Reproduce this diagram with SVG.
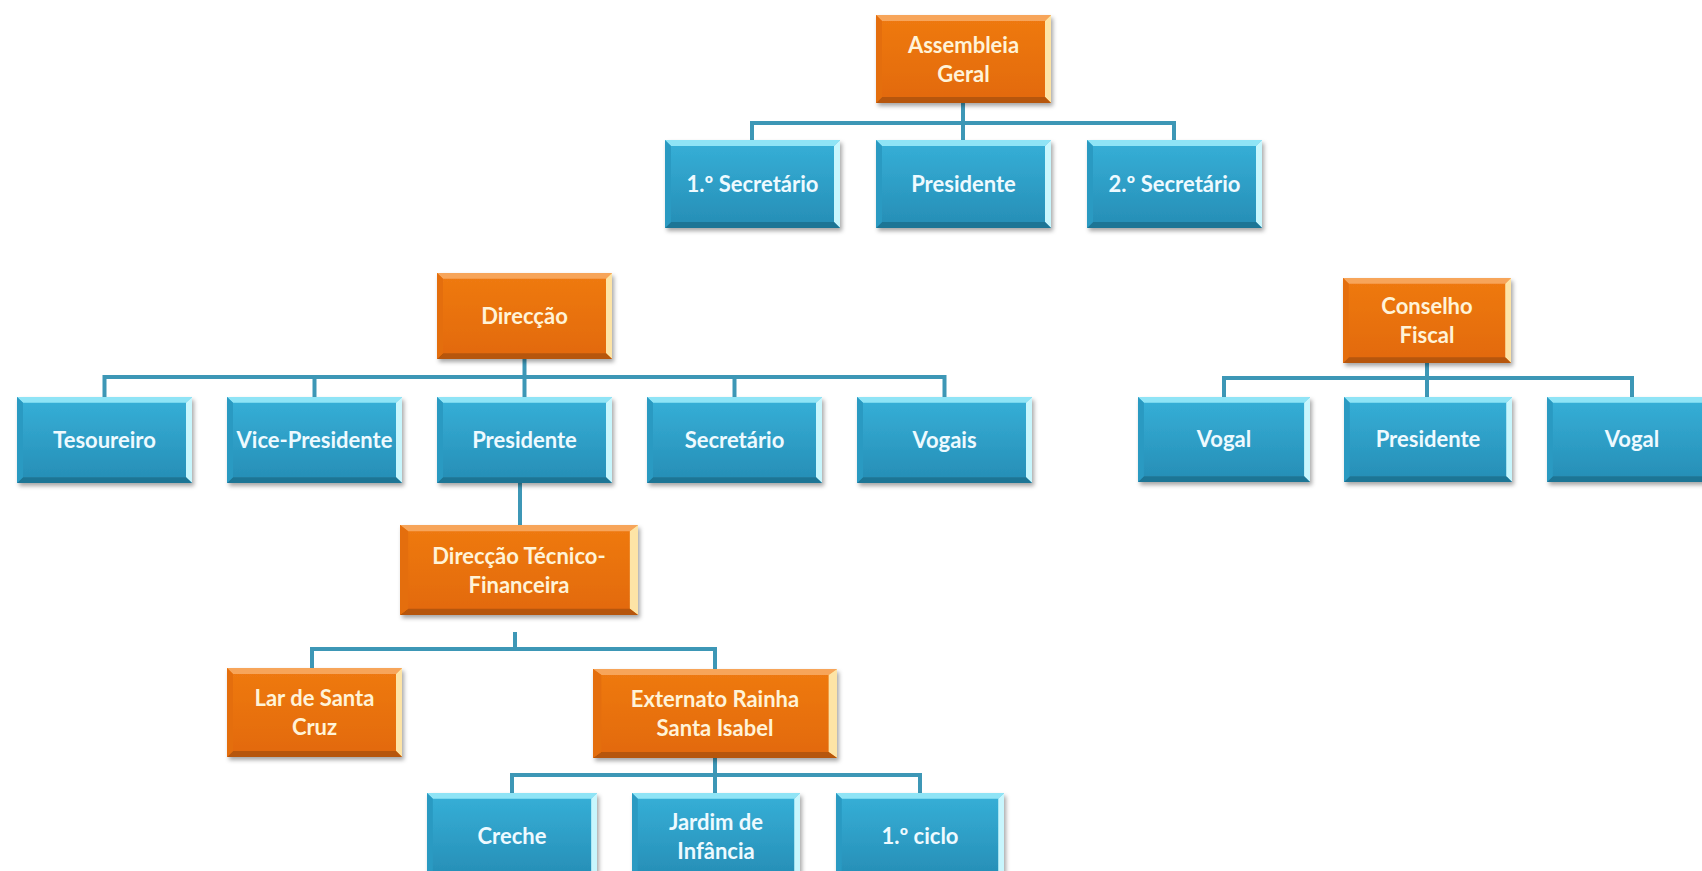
<svg xmlns="http://www.w3.org/2000/svg" xmlns:xlink="http://www.w3.org/1999/xlink" width="1702" height="871" viewBox="0 0 1702 871">
  <defs>
    <linearGradient id="blueFace" x1="0" y1="0" x2="0" y2="1">
      <stop offset="0" stop-color="#36b0d8"/>
      <stop offset="1" stop-color="#268db5"/>
    </linearGradient>
    <linearGradient id="orangeFace" x1="0" y1="0" x2="0" y2="1">
      <stop offset="0" stop-color="#ef7a12"/>
      <stop offset="1" stop-color="#e2690a"/>
    </linearGradient>
    <filter id="shadow" x="-10%" y="-10%" width="125%" height="130%">
      <feDropShadow dx="2" dy="3" stdDeviation="2" flood-color="#000" flood-opacity="0.35"/>
    </filter>
    <!-- bevelled tiles, stretched to each node's size -->
    <symbol id="blueTile" viewBox="0 0 175 88" preserveAspectRatio="none">
      <rect x="0" y="0" width="175" height="88" fill="url(#blueFace)"/>
      <polygon points="0,0 175,0 169,6 6,6" fill="#8fe4f6"/>
      <polygon points="175,0 175,88 169,82 169,6" fill="#c8f6fd"/>
      <polygon points="0,88 175,88 169,82 6,82" fill="#1f7595"/>
      <polygon points="0,0 0,88 6,82 6,6" fill="#2a9ac2"/>
    </symbol>
    <symbol id="orangeTile" viewBox="0 0 175 88" preserveAspectRatio="none">
      <rect x="0" y="0" width="175" height="88" fill="url(#orangeFace)"/>
      <polygon points="0,0 175,0 169,6 6,6" fill="#f7a55a"/>
      <polygon points="175,0 175,88 169,82 169,6" fill="#fde4a6"/>
      <polygon points="0,88 175,88 169,82 6,82" fill="#b65607"/>
      <polygon points="0,0 0,88 6,82 6,6" fill="#e46e0c"/>
    </symbol>
    <style>
      .tile { filter: url(#shadow); }
      .label { font-family: Lato, "Liberation Sans", sans-serif; font-weight: 700; font-size: 22px; text-anchor: middle; }
      .blue .label { fill: #eefaff; }
      .orange .label { fill: #fff3d8; }
      #connectors path { fill: none; stroke: #3d97b6; stroke-width: 4; }
    </style>
  </defs>

  <rect width="1702" height="871" fill="#ffffff"/>

  <g id="connectors">
    <!-- Assembleia Geral -->
    <path d="M963,103 V140"/>
    <path d="M752,140 V123 H1174 V140"/>
    <!-- Direcção -->
    <path d="M524.5,359 V397"/>
    <path d="M104.5,397 V377 H944.5 V397"/>
    <path d="M314.5,377 V397"/>
    <path d="M734.5,377 V397"/>
    <!-- Presidente to Direcção Técnico-Financeira -->
    <path d="M520,483 V525"/>
    <!-- Direcção Técnico-Financeira -->
    <path d="M515,632 V649"/>
    <path d="M312,668 V649 H715 V669"/>
    <!-- Externato Rainha Santa Isabel -->
    <path d="M715,758 V793"/>
    <path d="M512,793 V775 H920 V793"/>
    <!-- Conselho Fiscal -->
    <path d="M1427,363 V397"/>
    <path d="M1224,397 V378 H1632 V397"/>
  </g>

  <!-- Assembleia Geral -->
  <g id="assembleia-geral" class="orange">
    <use class="tile" xlink:href="#orangeTile" x="876" y="15" width="175" height="88"/>
    <text class="label" x="963.5" y="53">Assembleia</text>
    <text class="label" x="963.5" y="82">Geral</text>
  </g>
  <g id="ag-secretario-1" class="blue">
    <use class="tile" xlink:href="#blueTile" x="665" y="140" width="175" height="88"/>
    <text class="label" x="752.5" y="192">1.º Secretário</text>
  </g>
  <g id="ag-presidente" class="blue">
    <use class="tile" xlink:href="#blueTile" x="876" y="140" width="175" height="88"/>
    <text class="label" x="963.5" y="192">Presidente</text>
  </g>
  <g id="ag-secretario-2" class="blue">
    <use class="tile" xlink:href="#blueTile" x="1087" y="140" width="175" height="88"/>
    <text class="label" x="1174.5" y="192">2.º Secretário</text>
  </g>

  <!-- Direcção -->
  <g id="direccao" class="orange">
    <use class="tile" xlink:href="#orangeTile" x="437" y="273" width="175" height="86"/>
    <text class="label" x="524.5" y="324">Direcção</text>
  </g>
  <g id="dir-tesoureiro" class="blue">
    <use class="tile" xlink:href="#blueTile" x="17" y="397" width="175" height="86"/>
    <text class="label" x="104.5" y="448">Tesoureiro</text>
  </g>
  <g id="dir-vice-presidente" class="blue">
    <use class="tile" xlink:href="#blueTile" x="227" y="397" width="175" height="86"/>
    <text class="label" x="314.5" y="448">Vice-Presidente</text>
  </g>
  <g id="dir-presidente" class="blue">
    <use class="tile" xlink:href="#blueTile" x="437" y="397" width="175" height="86"/>
    <text class="label" x="524.5" y="448">Presidente</text>
  </g>
  <g id="dir-secretario" class="blue">
    <use class="tile" xlink:href="#blueTile" x="647" y="397" width="175" height="86"/>
    <text class="label" x="734.5" y="448">Secretário</text>
  </g>
  <g id="dir-vogais" class="blue">
    <use class="tile" xlink:href="#blueTile" x="857" y="397" width="175" height="86"/>
    <text class="label" x="944.5" y="448">Vogais</text>
  </g>

  <!-- Direcção Técnico-Financeira -->
  <g id="direccao-tecnico-financeira" class="orange">
    <use class="tile" xlink:href="#orangeTile" x="400" y="525" width="238" height="90"/>
    <text class="label" x="519" y="564">Direcção Técnico-</text>
    <text class="label" x="519" y="593">Financeira</text>
  </g>
  <g id="lar-santa-cruz" class="orange">
    <use class="tile" xlink:href="#orangeTile" x="227" y="668" width="175" height="89"/>
    <text class="label" x="314.5" y="706">Lar de Santa</text>
    <text class="label" x="314.5" y="735">Cruz</text>
  </g>
  <g id="externato" class="orange">
    <use class="tile" xlink:href="#orangeTile" x="593" y="669" width="244" height="89"/>
    <text class="label" x="715" y="707">Externato Rainha</text>
    <text class="label" x="715" y="736">Santa Isabel</text>
  </g>
  <g id="ext-creche" class="blue">
    <use class="tile" xlink:href="#blueTile" x="427" y="793" width="170" height="86"/>
    <text class="label" x="512" y="844">Creche</text>
  </g>
  <g id="ext-jardim" class="blue">
    <use class="tile" xlink:href="#blueTile" x="632" y="793" width="168" height="86"/>
    <text class="label" x="716" y="830">Jardim de</text>
    <text class="label" x="716" y="859">Infância</text>
  </g>
  <g id="ext-ciclo" class="blue">
    <use class="tile" xlink:href="#blueTile" x="836" y="793" width="168" height="86"/>
    <text class="label" x="920" y="844">1.º ciclo</text>
  </g>

  <!-- Conselho Fiscal -->
  <g id="conselho-fiscal" class="orange">
    <use class="tile" xlink:href="#orangeTile" x="1343" y="278" width="168" height="85"/>
    <text class="label" x="1427" y="314">Conselho</text>
    <text class="label" x="1427" y="343">Fiscal</text>
  </g>
  <g id="cf-vogal-1" class="blue">
    <use class="tile" xlink:href="#blueTile" x="1138" y="397" width="172" height="85"/>
    <text class="label" x="1224" y="447">Vogal</text>
  </g>
  <g id="cf-presidente" class="blue">
    <use class="tile" xlink:href="#blueTile" x="1344" y="397" width="168" height="85"/>
    <text class="label" x="1428" y="447">Presidente</text>
  </g>
  <g id="cf-vogal-2" class="blue">
    <use class="tile" xlink:href="#blueTile" x="1547" y="397" width="170" height="85"/>
    <text class="label" x="1632" y="447">Vogal</text>
  </g>
</svg>
